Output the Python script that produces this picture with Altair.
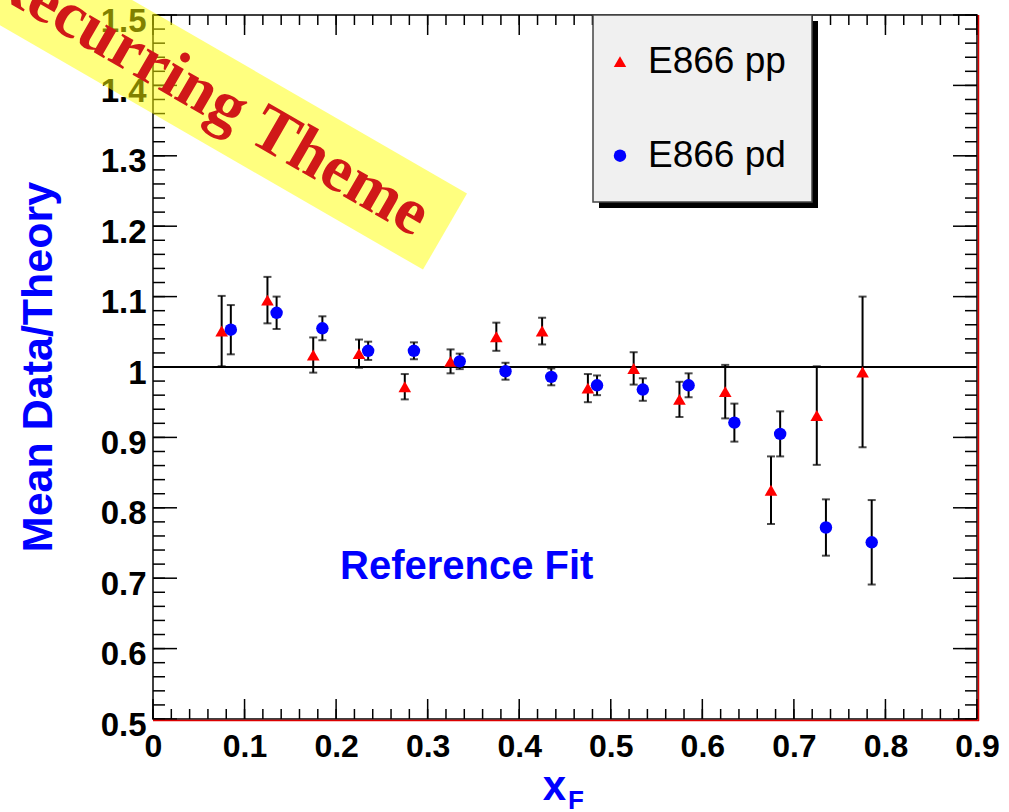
import altair as alt
import pandas as pd

# ---------------- data ----------------
series_names = ["E866 pp", "E866 pd"]
series_colors = ["#ff0000", "#0000ff"]
series_shapes = ["triangle-up", "circle"]

xf_pp = [0.075, 0.125, 0.175, 0.225, 0.275, 0.325, 0.375, 0.425,
         0.475, 0.525, 0.575, 0.625, 0.675, 0.725, 0.775]
ratio_pp = [1.051, 1.095, 1.017, 1.019, 0.972, 1.008, 1.043, 1.051,
            0.970, 0.998, 0.954, 0.965, 0.825, 0.931, 0.993]
err_pp = [0.050, 0.033, 0.025, 0.020, 0.018, 0.017, 0.020, 0.019,
          0.020, 0.023, 0.025, 0.038, 0.048, 0.070, 0.107]

xf_pd = [0.085, 0.135, 0.185, 0.235, 0.285, 0.335, 0.385, 0.435,
         0.485, 0.535, 0.585, 0.635, 0.685, 0.735, 0.785]
ratio_pd = [1.053, 1.077, 1.055, 1.023, 1.023, 1.008, 0.994, 0.986,
            0.974, 0.968, 0.974, 0.921, 0.905, 0.772, 0.751]
err_pd = [0.035, 0.023, 0.017, 0.013, 0.012, 0.011, 0.012, 0.012,
          0.014, 0.016, 0.017, 0.027, 0.032, 0.040, 0.060]

reference_value = [1.0]

x_tick_labels = [0.0, 0.1, 0.2, 0.3, 0.4, 0.5, 0.6, 0.7, 0.8, 0.9]
y_tick_labels = [0.5, 0.6, 0.7, 0.8, 0.9, 1.0, 1.1, 1.2, 1.3, 1.4, 1.5]
x_minor = [round(i * 0.02, 2) for i in range(46)]
y_minor = [round(0.5 + i * 0.02, 2) for i in range(51)]

y_title = "Mean Data/Theory"
x_title_main = "x"
x_title_sub = "F"
annotation = "Reference Fit"
banner_text = "Recurring Theme"

# ---------------- tables ----------------
rows = []
for name, xs, ys, es in [(series_names[0], xf_pp, ratio_pp, err_pp),
                         (series_names[1], xf_pd, ratio_pd, err_pd)]:
    for x, y, e in zip(xs, ys, es):
        rows.append({"xf": x, "ratio": y, "lo": y - e, "hi": y + e, "series": name})
df = pd.DataFrame(rows)

W, H = 824, 704
xscale = alt.Scale(domain=[0, 0.9], nice=False, zero=False)
yscale = alt.Scale(domain=[0.5, 1.5], nice=False, zero=False)

label_font = "Liberation Sans"
xaxis = alt.Axis(values=x_tick_labels, format=".1~f", labelFont=label_font,
                 labelFontSize=32, labelFontWeight="bold", labelColor="black",
                 ticks=False, tickSize=0, domain=False, grid=False,
                 labelPadding=12, labelFlush=False, labelOverlap=False, title=None)
yaxis = alt.Axis(values=y_tick_labels, format=".1~f", labelFont=label_font,
                 labelFontSize=33, labelFontWeight="bold", labelColor="black",
                 ticks=False, tickSize=0, domain=False, grid=False,
                 labelPadding=7, labelOffset=6, labelFlush=False, labelOverlap=False,
                 title=None)


def X(field):
    return alt.X(field, type="quantitative", scale=xscale, axis=xaxis, title=None)


def Y(field):
    return alt.Y(field, type="quantitative", scale=yscale, axis=yaxis, title=None)


layers = []

# reference line at 1
layers.append(
    alt.Chart(pd.DataFrame({"ratio": reference_value}))
    .mark_rule(color="black", strokeWidth=2)
    .encode(y=Y("ratio"))
)

# error bars
layers.append(
    alt.Chart(df).mark_rule(color="black", strokeWidth=2)
    .encode(x=X("xf"), y=Y("lo"), y2="hi")
)
for end in ["lo", "hi"]:
    layers.append(
        alt.Chart(df).mark_tick(color="black", orient="horizontal", size=8, thickness=2)
        .encode(x=X("xf"), y=Y(end))
    )

# markers
layers.append(
    alt.Chart(df).mark_point(filled=True, opacity=1)
    .encode(
        x=X("xf"), y=Y("ratio"),
        color=alt.Color("series:N", scale=alt.Scale(domain=series_names, range=series_colors), legend=None),
        shape=alt.Shape("series:N", scale=alt.Scale(domain=series_names, range=series_shapes), legend=None),
        size=alt.Size("series:N", scale=alt.Scale(domain=series_names, range=[160, 155]), legend=None),
    )
)

# inward ticks on all four sides
xmaj = pd.DataFrame({"v": x_tick_labels})
xmin = pd.DataFrame({"v": x_minor})
ymaj = pd.DataFrame({"v": y_tick_labels})
ymin = pd.DataFrame({"v": y_minor})
tk = dict(color="black", strokeWidth=1.5)
layers += [
    alt.Chart(xmaj).mark_rule(**tk).encode(x=X("v"), y=alt.value(H - 20), y2=alt.value(H)),
    alt.Chart(xmin).mark_rule(**tk).encode(x=X("v"), y=alt.value(H - 10), y2=alt.value(H)),
    alt.Chart(xmaj).mark_rule(**tk).encode(x=X("v"), y=alt.value(0), y2=alt.value(20)),
    alt.Chart(xmin).mark_rule(**tk).encode(x=X("v"), y=alt.value(0), y2=alt.value(10)),
    alt.Chart(ymaj).mark_rule(**tk).encode(y=Y("v"), x=alt.value(0), x2=alt.value(24)),
    alt.Chart(ymin).mark_rule(**tk).encode(y=Y("v"), x=alt.value(0), x2=alt.value(12)),
    alt.Chart(ymaj).mark_rule(**tk).encode(y=Y("v"), x=alt.value(W - 24), x2=alt.value(W)),
    alt.Chart(ymin).mark_rule(**tk).encode(y=Y("v"), x=alt.value(W - 12), x2=alt.value(W)),
]

# red outer edge of the frame (right and bottom)
layers += [
    alt.Chart().mark_rule(color="#dd0000", strokeWidth=1.5)
    .encode(x=alt.value(W + 1.5), y=alt.value(0), y2=alt.value(H + 2)),
    alt.Chart().mark_rule(color="#dd0000", strokeWidth=1.5)
    .encode(x=alt.value(0), x2=alt.value(W + 2), y=alt.value(H + 1.5)),
]

# legend box with shadow
layers += [
    alt.Chart().mark_rect(color="black")
    .encode(x=alt.value(446), x2=alt.value(665), y=alt.value(6), y2=alt.value(193)),
    alt.Chart().mark_rect(fill="#f0f0f0", stroke="#444444", strokeWidth=1.5)
    .encode(x=alt.value(440), x2=alt.value(659), y=alt.value(0), y2=alt.value(187)),
]
legend_rows_y = [46.7, 140.7]
for name, col, shp, yy in zip(series_names, series_colors, series_shapes, legend_rows_y):
    layers.append(
        alt.Chart().mark_point(filled=True, opacity=1, shape=shp, color=col, size=155)
        .encode(x=alt.value(467), y=alt.value(yy))
    )
    layers.append(
        alt.Chart(pd.DataFrame({"name": [name]}))
        .mark_text(align="left", baseline="alphabetic", font=label_font, fontSize=37, color="black")
        .encode(text="name:N", x=alt.value(495), y=alt.value(yy + 11))
    )

# titles and annotation
blue = "#0000ff"
layers += [
    alt.Chart().mark_text(text=y_title, angle=270, align="center", baseline="alphabetic",
                          font=label_font, fontSize=43, fontWeight="bold", color=blue)
    .encode(x=alt.value(-101), y=alt.value(352)),
    alt.Chart().mark_text(text=x_title_main, align="center", baseline="alphabetic",
                          font=label_font, fontSize=42, fontWeight="bold", color=blue)
    .encode(x=alt.value(401.5), y=alt.value(785)),
    alt.Chart().mark_text(text=x_title_sub, align="left", baseline="alphabetic",
                          font=label_font, fontSize=26, fontWeight="bold", color=blue)
    .encode(x=alt.value(415), y=alt.value(794)),
    alt.Chart().mark_text(text=annotation, align="center", baseline="alphabetic",
                          font=label_font, fontSize=40, fontWeight="bold", color=blue)
    .encode(x=alt.value(313.7), y=alt.value(564.3)),
]

# yellow banner with red serif text
layers += [
    alt.Chart().mark_rule(color="#ffff00", opacity=0.5, strokeWidth=88, strokeCap="butt")
    .encode(x=alt.value(-314), y=alt.value(-133.5), x2=alt.value(292), y2=alt.value(216.5)),
    alt.Chart().mark_text(text=banner_text, angle=30, align="center", baseline="middle",
                          font="Liberation Serif", fontSize=66, fontWeight="bold", color="#d01818")
    .encode(x=alt.value(55), y=alt.value(80)),
]

chart = (
    alt.layer(*layers)
    .properties(
        width=W, height=H,
        padding={"left": 153, "top": 15, "right": 32, "bottom": 93},
        autosize=alt.AutoSizeParams(type="none"),
        background="white",
    )
    .configure_view(stroke="black", strokeWidth=1.5)
)

chart.save("out.html", embed_options={"renderer": "svg", "actions": False})
